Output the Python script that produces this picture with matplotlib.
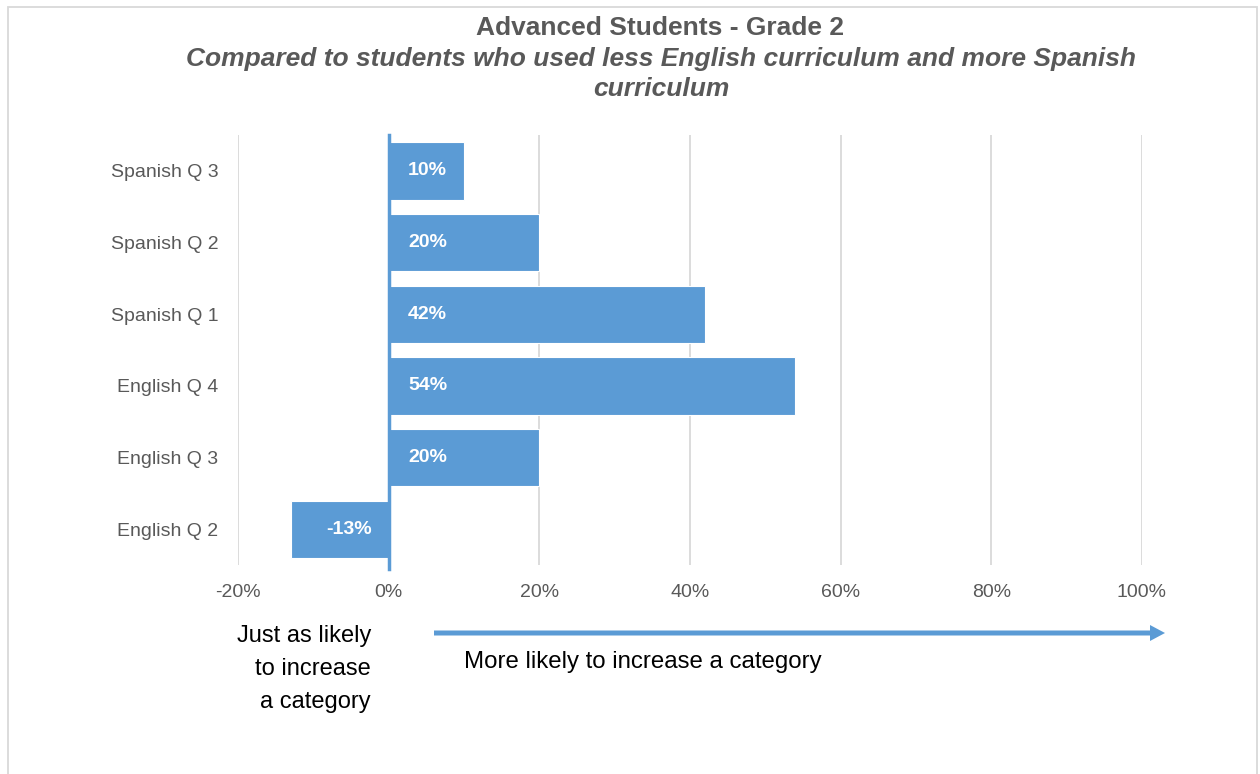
import matplotlib.pyplot as plt
from matplotlib.patches import Rectangle, FancyArrow

plt.rcParams["font.family"] = ["Liberation Sans", "DejaVu Sans"]

# ===== Data =====
categories = ["English Q 2", "English Q 3", "English Q 4",
              "Spanish Q 1", "Spanish Q 2", "Spanish Q 3"]
values = [-13, 20, 54, 42, 20, 10]
xticks = [-20, 0, 20, 40, 60, 80, 100]

bar_color = "#5B9BD5"
grey = "#595959"

W, H = 1260, 774
fig = plt.figure(figsize=(W / 100, H / 100), dpi=100)

# plot area in pixels: x 238..1142, y 135..565
ax = fig.add_axes([238 / W, 1 - 565 / H, (1142 - 238) / W, (565 - 135) / H])

y = list(range(len(categories)))
ax.barh(y, values, height=0.8, color=bar_color, edgecolor="white", linewidth=0.8, zorder=2)

for yi, v in zip(y, values):
    if v >= 0:
        ax.annotate(f"{v}%", xy=(0, yi), xytext=(14, 0), textcoords="offset points",
                    ha="left", va="center", color="white", fontsize=14, fontweight="bold")
    else:
        ax.annotate(f"{v}%", xy=(0, yi), xytext=(-12, 0), textcoords="offset points",
                    ha="right", va="center", color="white", fontsize=14, fontweight="bold")

ax.set_xlim(-20, 100)
ax.set_ylim(-0.5, len(categories) - 0.5)
ax.set_xticks(xticks)
ax.set_xticklabels([f"{t}%" for t in xticks])
ax.set_yticks(y)
ax.set_yticklabels(categories)
ax.tick_params(axis="both", length=0, labelsize=14, labelcolor=grey)
ax.tick_params(axis="x", pad=14)
ax.tick_params(axis="y", pad=14)
for s in ax.spines.values():
    s.set_visible(False)
ax.grid(axis="x", color="#D9D9D9", linewidth=1.3, zorder=0)
ax.axvline(0, ymin=-0.01, ymax=1, color=bar_color, linewidth=2.5, zorder=3, clip_on=False)

# chart border
fig.patches.append(Rectangle((8 / W, -0.05), (1257 - 8) / W, 1.05 - 7 / H,
                             transform=fig.transFigure, fill=False,
                             edgecolor="#D9D9D9", linewidth=1.3))

# titles
fig.text(660 / W, 1 - 28 / H, "Advanced Students - Grade 2", ha="center", va="center",
         fontsize=19, fontweight="bold", color=grey)
fig.text(661 / W, 1 - 74 / H,
         "Compared to students who used less English curriculum and more Spanish\ncurriculum",
         ha="center", va="center", fontsize=19, fontweight="bold", style="italic",
         color=grey, linespacing=1.32)

# bottom annotations
fig.text(371 / W, 1 - 669 / H, "Just as likely\nto increase\na category", ha="right", va="center",
         fontsize=17, color="black", linespacing=1.63)
fig.text(464 / W, 1 - 662 / H, "More likely to increase a category", ha="left", va="center",
         fontsize=17.3, color="black")
fig.patches.append(FancyArrow(434 / W, 1 - 633 / H, (1150 - 434) / W, 0,
                              width=5 / H, head_width=16 / H, head_length=15 / W,
                              length_includes_head=False, transform=fig.transFigure,
                              color=bar_color, linewidth=0))

fig.savefig("out.png", dpi=100)
